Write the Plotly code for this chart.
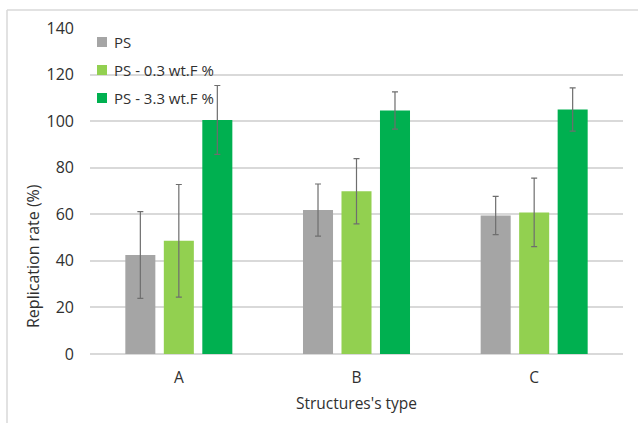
import plotly.graph_objects as go

# Data
categories = ["A", "B", "C"]
series_names = ["PS", "PS - 0.3 wt.F %", "PS - 3.3 wt.F %"]
series_values = [
    [42.5, 61.8, 59.5],
    [48.6, 69.9, 60.8],
    [100.5, 104.6, 105.0],
]
series_errors = [
    [18.6, 11.2, 8.2],
    [24.2, 14.0, 14.7],
    [14.8, 8.0, 9.3],
]
series_colors = ["#A5A5A5", "#92D050", "#00B050"]
y_ticks = [0, 20, 40, 60, 80, 100, 120, 140]
x_title = "Structures's type"
y_title = "Replication rate (%)"

FONT = "Open Sans, Segoe UI, sans-serif"
TEXT_COLOR = "#303030"
GRID_COLOR = "#D9D9D9"

fig = go.Figure()
for name, vals, errs, color in zip(series_names, series_values, series_errors, series_colors):
    fig.add_trace(go.Bar(
        x=categories,
        y=vals,
        name=name,
        marker=dict(color=color, line=dict(width=0)),
        error_y=dict(type="data", array=errs, visible=True,
                     color="#6E6E6E", thickness=1.2, width=3),
        showlegend=False,
    ))

# Plot area geometry in pixels (used for the frame, titles and legend placement)
W, H = 638, 423
ML, MR, MT, MB = 90, 15, 28, 69
PW, PH = W - ML - MR, H - MT - MB


def px_x(px):
    return (px - ML) / PW


def px_y(py):
    return (H - MB - py) / PH


shapes = [
    # outer chart frame (top and left edges)
    dict(type="line", xref="paper", yref="paper", x0=px_x(7), x1=px_x(640),
         y0=px_y(10), y1=px_y(10), line=dict(color=GRID_COLOR, width=1.5)),
    dict(type="line", xref="paper", yref="paper", x0=px_x(7), x1=px_x(7),
         y0=px_y(10), y1=px_y(430), line=dict(color=GRID_COLOR, width=1.5)),
]

annotations = [
    dict(xref="paper", yref="paper", x=px_x(356), y=px_y(403),
         xanchor="center", yanchor="middle", text=x_title, showarrow=False,
         font=dict(family=FONT, size=15.5, color=TEXT_COLOR)),
    dict(xref="paper", yref="paper", x=px_x(33), y=px_y(256),
         xanchor="center", yanchor="middle", text=y_title, showarrow=False,
         textangle=-90, font=dict(family=FONT, size=16, color=TEXT_COLOR)),
]
# legend inside the plot, top-left
for i, (name, color) in enumerate(zip(series_names, series_colors)):
    cy = 42 + 28 * i
    shapes.append(dict(type="rect", xref="paper", yref="paper",
                       x0=px_x(97), x1=px_x(107), y0=px_y(cy - 5), y1=px_y(cy + 5),
                       fillcolor=color, line=dict(width=0)))
    annotations.append(dict(xref="paper", yref="paper", x=px_x(112), y=px_y(cy),
                            xanchor="left", yanchor="middle", text=name, showarrow=False,
                            font=dict(family=FONT, size=15, color=TEXT_COLOR)))

fig.update_layout(
    width=W, height=H,
    margin=dict(l=ML, r=MR, t=MT, b=MB, autoexpand=False),
    paper_bgcolor="white",
    plot_bgcolor="white",
    barmode="group",
    bargap=0.35,
    bargroupgap=0.22,
    font=dict(family=FONT, size=15, color=TEXT_COLOR),
    shapes=shapes,
    annotations=annotations,
    xaxis=dict(
        showgrid=False, showline=False, ticks="", zeroline=False,
        tickfont=dict(size=15.5), ticklabelstandoff=12,
    ),
    yaxis=dict(
        range=[0, 140], tickvals=y_ticks,
        showgrid=True, gridcolor=GRID_COLOR, gridwidth=1.5,
        zeroline=True, zerolinecolor=GRID_COLOR, zerolinewidth=1.5,
        showline=False, ticks="", tickfont=dict(size=16), ticklabelstandoff=15,
    ),
)

fig.write_html("out.html")
